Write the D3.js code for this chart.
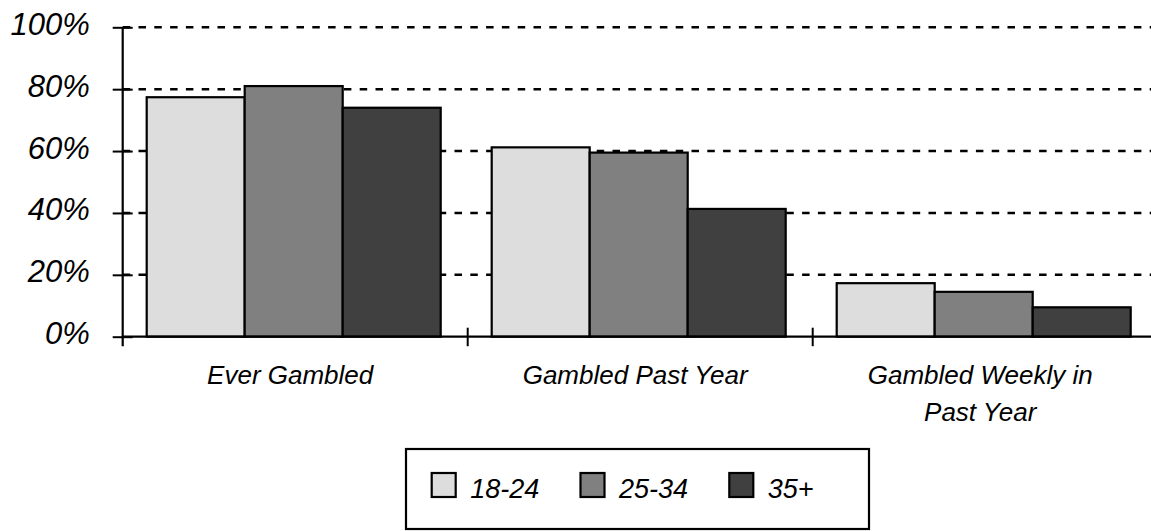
<!DOCTYPE html>
<html>
<head>
<meta charset="utf-8">
<script src="https://cdn.jsdelivr.net/npm/d3@7"></script>
<style>
  html, body { margin: 0; padding: 0; background: #fff; }
  svg { display: block; font-family: "Liberation Sans", Arial, Helvetica, sans-serif; font-style: italic; }
</style>
</head>
<body>
<svg id="chart" width="1151" height="531"></svg>
<script>
// Gambling participation by age group (percent)
const categories = ["Ever Gambled", "Gambled Past Year", "Gambled Weekly in Past Year"];
const categoryLines = [["Ever Gambled"], ["Gambled Past Year"], ["Gambled Weekly in", "Past Year"]];
const seriesNames = ["18-24", "25-34", "35+"];
const values1824 = [77.4, 61.2, 17.3];
const values2534 = [81.0, 59.5, 14.5];
const values35plus = [74.0, 41.3, 9.5];
const yTicks = [0, 20, 40, 60, 80, 100];
const yTickLabels = ["0%", "20%", "40%", "60%", "80%", "100%"];
const seriesFills = ["#dddddd", "#808080", "#404040"];

const seriesValues = [values1824, values2534, values35plus];

const svg = d3.select("#chart");
svg.append("rect").attr("width", 1151).attr("height", 531).attr("fill", "#fff");

const axisX = 122.7;
const y = d3.scaleLinear().domain([0, 100]).range([336.7, 27.3]);
const x0 = d3.scaleBand().domain(categories).range([axisX, 1157.7]).padding(0);
const x1 = d3.scaleBand().domain(seriesNames).range([24, 318]).padding(0);
const color = d3.scaleOrdinal().domain(seriesNames).range(seriesFills);

// dashed gridlines
svg.append("g")
  .selectAll("line")
  .data(yTicks.filter(d => d > 0))
  .join("line")
  .attr("x1", axisX).attr("x2", 1160)
  .attr("y1", d => y(d)).attr("y2", d => y(d))
  .attr("stroke", "#000")
  .attr("stroke-width", 2.5)
  .attr("stroke-dasharray", "7.5,8.3");

// bars
const rows = categories.map((c, i) => ({
  category: c,
  items: seriesNames.map((s, j) => ({ series: s, value: seriesValues[j][i] }))
}));

svg.append("g")
  .selectAll("g")
  .data(rows)
  .join("g")
  .attr("transform", d => `translate(${x0(d.category)},0)`)
  .selectAll("rect")
  .data(d => d.items)
  .join("rect")
  .attr("x", d => x1(d.series))
  .attr("y", d => y(d.value))
  .attr("width", x1.bandwidth())
  .attr("height", d => y(0) - y(d.value))
  .attr("fill", d => color(d.series))
  .attr("stroke", "#000")
  .attr("stroke-width", 2.2);

// y axis
const yAxis = d3.axisLeft(y)
  .tickValues(yTicks)
  .tickFormat((d, i) => yTickLabels[i])
  .tickSizeInner(10)
  .tickSizeOuter(0)
  .tickPadding(23);

const gy = svg.append("g").attr("transform", `translate(${axisX},0)`).call(yAxis);
gy.select(".domain").remove();
gy.selectAll(".tick line").attr("x2", 10).attr("x1", -10).attr("stroke", "#000").attr("stroke-width", 2);
gy.selectAll(".tick text")
  .attr("font-size", 31)
  .attr("font-style", "italic")
  .attr("font-family", "'Liberation Sans', Arial, sans-serif")
  .attr("fill", "#000")
  .attr("dy", null)
  .attr("y", 7)
  .attr("x", -33);
svg.append("line")
  .attr("x1", axisX).attr("x2", axisX)
  .attr("y1", y(100)).attr("y2", y(0) + 9.5)
  .attr("stroke", "#000").attr("stroke-width", 2.2);

// x axis
svg.append("line")
  .attr("x1", axisX).attr("x2", 1160)
  .attr("y1", y(0)).attr("y2", y(0))
  .attr("stroke", "#000").attr("stroke-width", 2.2);

svg.append("g")
  .selectAll("line")
  .data(categories.slice(1))
  .join("line")
  .attr("x1", d => x0(d)).attr("x2", d => x0(d))
  .attr("y1", y(0) - 9).attr("y2", y(0) + 9.5)
  .attr("stroke", "#000").attr("stroke-width", 2);

// category labels
const labels = svg.append("g")
  .selectAll("text")
  .data(categories)
  .join("text")
  .attr("x", d => x0(d) + x0.bandwidth() / 2 - 5)
  .attr("y", 384)
  .attr("text-anchor", "middle")
  .attr("font-size", 26)
  .attr("fill", "#000");
labels.selectAll("tspan")
  .data((d, i) => categoryLines[i])
  .join("tspan")
  .attr("x", function () { return this.parentNode.getAttribute("x"); })
  .attr("dy", (d, i) => i === 0 ? 0 : 36.5)
  .text(d => d);

// legend
const legend = svg.append("g");
legend.append("rect")
  .attr("x", 406).attr("y", 449)
  .attr("width", 463).attr("height", 80)
  .attr("fill", "#fff")
  .attr("stroke", "#000").attr("stroke-width", 2.2);

const lx = d3.scalePoint().domain(seriesNames).range([431.7, 729.3]);
const item = legend.selectAll("g.item")
  .data(seriesNames)
  .join("g")
  .attr("class", "item")
  .attr("transform", d => `translate(${lx(d)},473)`);
item.append("rect")
  .attr("width", 24).attr("height", 24)
  .attr("fill", d => color(d))
  .attr("stroke", "#000").attr("stroke-width", 2.2);
item.append("text")
  .attr("x", 38.5)
  .attr("y", 25)
  .attr("font-size", 27)
  .attr("fill", "#000")
  .text(d => d);
</script>
</body>
</html>
